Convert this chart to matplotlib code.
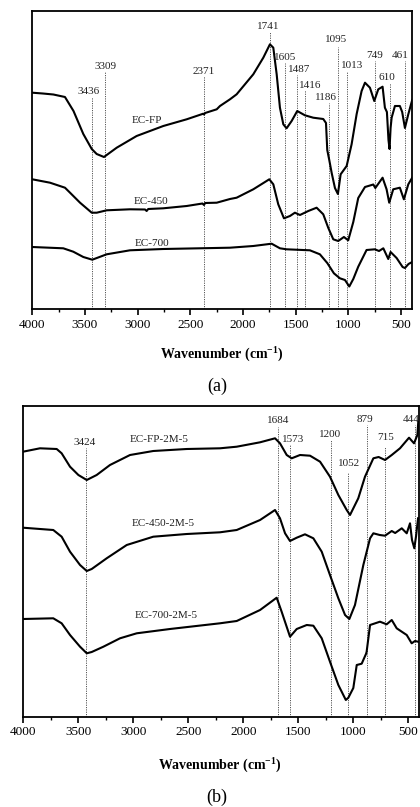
import matplotlib
matplotlib.use("Agg")
import matplotlib.pyplot as plt
from matplotlib.ticker import MultipleLocator

plt.rcParams['font.family'] = ['Liberation Serif', 'DejaVu Serif']
plt.rcParams['mathtext.fontset'] = 'custom'
plt.rcParams['mathtext.rm'] = 'Liberation Serif'
plt.rcParams['mathtext.bf'] = 'Liberation Serif:bold'

# ---------------- panel (a) data (arbitrary transmittance units) ----------------
fp_wn = [4000, 3900, 3800, 3690, 3609, 3516, 3436, 3389, 3320, 3199, 3010, 2757, 2535, 2400,
         2378, 2371, 2360, 2250, 2219, 2124, 2061, 1903, 1808, 1745, 1713, 1681, 1650, 1618,
         1587, 1539, 1486, 1413, 1334, 1239, 1213, 1201, 1182, 1159, 1128, 1100, 1074, 1017,
         970, 922, 875, 843, 796, 755, 717, 676, 654, 635, 628, 620, 610, 600, 590, 559, 512,
         490, 464, 432, 395]
fp_t = [216.3, 215.5, 214.5, 212, 198, 175, 160, 155, 152, 161.3, 173, 183, 189.7, 194.5,
        195.3, 194.5, 196, 199.7, 203, 209.7, 214.7, 234.7, 251.3, 264.7, 261.3, 234.7, 201.3, 184.7,
        180.7, 188, 198, 193.7, 191.3, 190, 186, 159, 149, 136, 121, 115, 134.7, 143,
        164.7, 195, 218, 226.3, 221.3, 208, 219.7, 222.3, 201.3, 197, 184, 169, 160, 181, 191.3, 203, 203,
        197, 181, 194.7, 209]

e450_wn = [4000, 3832, 3690, 3642, 3547, 3436, 3389, 3294, 3073, 2930, 2915, 2900, 2757, 2535,
           2385, 2371, 2360, 2250, 2124, 2061, 1903, 1751, 1713, 1666, 1612, 1555, 1508, 1460,
           1381, 1302, 1239, 1192, 1144, 1097, 1043, 1002, 954, 907, 843, 764, 745, 676, 638,
           613, 575, 512, 474, 432, 395]
e450_t = [129.7, 126.3, 121.3, 116.3, 106.3, 96.3, 96.3, 98.7, 99.7, 99.5, 98, 100, 100.7, 103,
          105.5, 104, 106, 106.3, 110, 111.3, 119.7, 129.7, 124.7, 104.7, 90.7, 93, 96.3, 94,
          98, 101.3, 94.7, 81.3, 69.7, 68, 72, 68.7, 87, 111, 122, 124.5, 121, 131.3, 119.7,
          106.3, 119.7, 121.3, 109.7, 124.7, 131.3]

e700_wn = [4000, 3706, 3611, 3516, 3431, 3294, 3073, 2757, 2124, 1903, 1729, 1650, 1587, 1366,
           1271, 1201, 1138, 1081, 1033, 992, 954, 907, 828, 749, 710, 669, 622, 600, 543, 486,
           464, 430, 395]
e700_t = [62, 60.7, 57.3, 52, 49.3, 54.7, 58.7, 60, 61.3, 63, 65.3, 60.7, 59.7, 58.7,
          54.7, 46, 35.7, 30.7, 29, 22.5, 30, 42.3, 59, 59.7, 58, 60.7, 50, 57, 51, 42,
          41, 45, 47]

peaks_a = [3436, 3309, 2371, 1741, 1605, 1487, 1416, 1186, 1095, 1013, 749, 610, 461]
peaks_a_lbl = ['3436', '3309', '2371', '1741', '1605', '1487', '1416', '1186', '1095', '1013', '749', '610', '461']

# ---------------- panel (b) data ----------------
fp2_wn = [4000, 3846, 3694, 3649, 3573, 3497, 3421, 3331, 3210, 3028, 2817, 2513, 2211, 2059,
          1847, 1711, 1666, 1605, 1560, 1484, 1393, 1302, 1212, 1136, 1060, 1030, 955, 894,
          818, 770, 712, 651, 576, 494, 449, 418, 410]
fp2_t = [265, 268.4, 267.7, 263.4, 250, 241.7, 236.7, 241.7, 251.7, 261.7, 265.7, 267.7, 268.4, 270,
         274.4, 278.4, 273.4, 261.7, 258.4, 261.7, 261, 255, 240, 221.7, 206.7, 201.7, 218.4, 240,
         258.4, 259.7, 256.7, 261.7, 268.4, 279, 273.4, 281.7, 295]

e450b_wn = [4000, 3725, 3649, 3573, 3482, 3421, 3376, 3240, 3058, 2817, 2513, 2211, 2059, 1847,
            1711, 1666, 1620, 1575, 1514, 1439, 1363, 1287, 1212, 1136, 1075, 1036, 985, 909,
            848, 818, 760, 712, 651, 620, 560, 515, 485, 467, 446, 430, 412]
e450b_t = [189, 186.7, 180, 165, 151.7, 145.7, 147.7, 158.4, 171.7, 180, 182.7, 184.4, 186.7, 196.7,
           206.7, 198.4, 183.4, 175.7, 179, 182.4, 178.4, 165, 141.7, 118.4, 101.7, 97.7, 111.7, 151.7,
           178.4, 183.4, 181.7, 181, 185.7, 183.7, 188.4, 183.4, 193.4, 176.7, 168.4, 180.7, 198.4]

e700b_wn = [4000, 3725, 3649, 3573, 3482, 3421, 3376, 3270, 3119, 2967, 2665, 2211, 2059, 1847,
            1696, 1651, 1575, 1514, 1423, 1363, 1287, 1212, 1136, 1068, 1045, 1000, 969, 924,
            884, 879, 848, 758, 697, 651, 606, 560, 515, 470, 440, 412]
e700b_t = [97.7, 98.4, 93.4, 81.7, 70, 63.4, 64.7, 70, 78.4, 83.4, 87.7, 93.4, 95.7, 106.7,
           119, 105, 80, 87.7, 91.7, 91, 78.4, 55, 31.7, 16.7, 19, 28.7, 51.7, 53,
           63, 65, 91.7, 95, 92.4, 96.7, 88.4, 85, 81.7, 73.4, 75.7, 75]

peaks_b = [3424, 1684, 1573, 1200, 1052, 879, 715, 444]
peaks_b_lbl = ['3424', '1684', '1573', '1200', '1052', '879', '715', '444']

curve_names_a = ['EC-FP', 'EC-450', 'EC-700']
curve_names_b = ['EC-FP-2M-5', 'EC-450-2M-5', 'EC-700-2M-5']
tick_vals = [4000, 3500, 3000, 2500, 2000, 1500, 1000, 500]

# ---------------- layout (label placement, not data) ----------------
# (label x in wavenumber, label y centre, dotted line top) for each peak
lay_a = [(3464, 217, 212), (3310, 242.3, 237.3), (2378, 238, 233), (1763, 282.3, 277.3),
         (1605, 251.7, 246.5), (1469, 239, 234), (1362, 224, 219), (1213, 211.3, 206),
         (1118, 269.7, 262), (969, 243.7, 238), (751, 253, 248), (634, 231.3, 226), (511, 253, 248)]
lay_b = [(3441, 274.4, 268.7), (1684, 296.7, 290), (1545, 277.7, 271.7), (1212, 282.4, 276.7),
         (1043, 253.4, 244), (891, 297.7, 291.7), (710, 279, 270), (478, 297.7, 291.7)]
name_pos_a = [(2908, 188.7), (2876, 108), (2867, 65.7)]
name_pos_b = [(2762, 277.7), (2726, 193.4), (2702, 100.7)]

W, H = 420, 807
fig = plt.figure(figsize=(W / 100, H / 100), dpi=100)
ax1 = fig.add_axes([32.3 / W, 1 - 309 / H, 380 / W, 298 / H])
ax2 = fig.add_axes([23 / W, 1 - 716.7 / H, 395.5 / W, 311 / H])


def style(ax, xr):
    ax.set_xlim(4000, xr)
    ax.set_xticks(tick_vals)
    ax.set_xticklabels([str(v) for v in tick_vals])
    ax.xaxis.set_minor_locator(MultipleLocator(250))
    ax.tick_params(axis='x', which='major', direction='out', length=4, width=1.2,
                   labelsize=9.5, pad=3)
    ax.tick_params(axis='x', which='minor', direction='out', length=2.5, width=1.0)
    ax.set_yticks([])
    for s in ax.spines.values():
        s.set_linewidth(1.3)


style(ax1, 394)
ax1.set_ylim(0, 298)
style(ax2, 408)
ax2.set_ylim(0, 311)

for wn, t in [(fp_wn, fp_t), (e450_wn, e450_t), (e700_wn, e700_t)]:
    ax1.plot(wn, t, color='black', lw=1.5, solid_joinstyle='round')
for wn, t in [(fp2_wn, fp2_t), (e450b_wn, e450b_t), (e700b_wn, e700b_t)]:
    ax2.plot(wn, t, color='black', lw=1.5, solid_joinstyle='round')

for ax, peaks, lbls, lay in [(ax1, peaks_a, peaks_a_lbl, lay_a), (ax2, peaks_b, peaks_b_lbl, lay_b)]:
    for p, lb, (lx, ly, top) in zip(peaks, lbls, lay):
        ax.plot([p, p], [0, top], color='#555555', lw=0.7, ls=(0, (1.2, 1.2)), zorder=1)
        ax.text(lx, ly, lb, fontsize=8, ha='center', va='center', color='#222222', clip_on=False)

for ax, names, pos in [(ax1, curve_names_a, name_pos_a), (ax2, curve_names_b, name_pos_b)]:
    for n, (x, y) in zip(names, pos):
        ax.text(x, y, n, fontsize=8, ha='center', va='center', color='#222222')

xl = r'Wavenumber (cm$^{\mathbf{-1}}$)'
fig.text(222 / W, 1 - 354 / H, xl, fontsize=10, fontweight='bold', ha='center', va='center')
fig.text(217 / W, 1 - 386 / H, '(a)', fontsize=13, ha='center', va='center')
fig.text(220 / W, 1 - 765 / H, xl, fontsize=10, fontweight='bold', ha='center', va='center')
fig.text(217 / W, 1 - 797 / H, '(b)', fontsize=13, ha='center', va='center')

fig.savefig('out.png', dpi=100)
